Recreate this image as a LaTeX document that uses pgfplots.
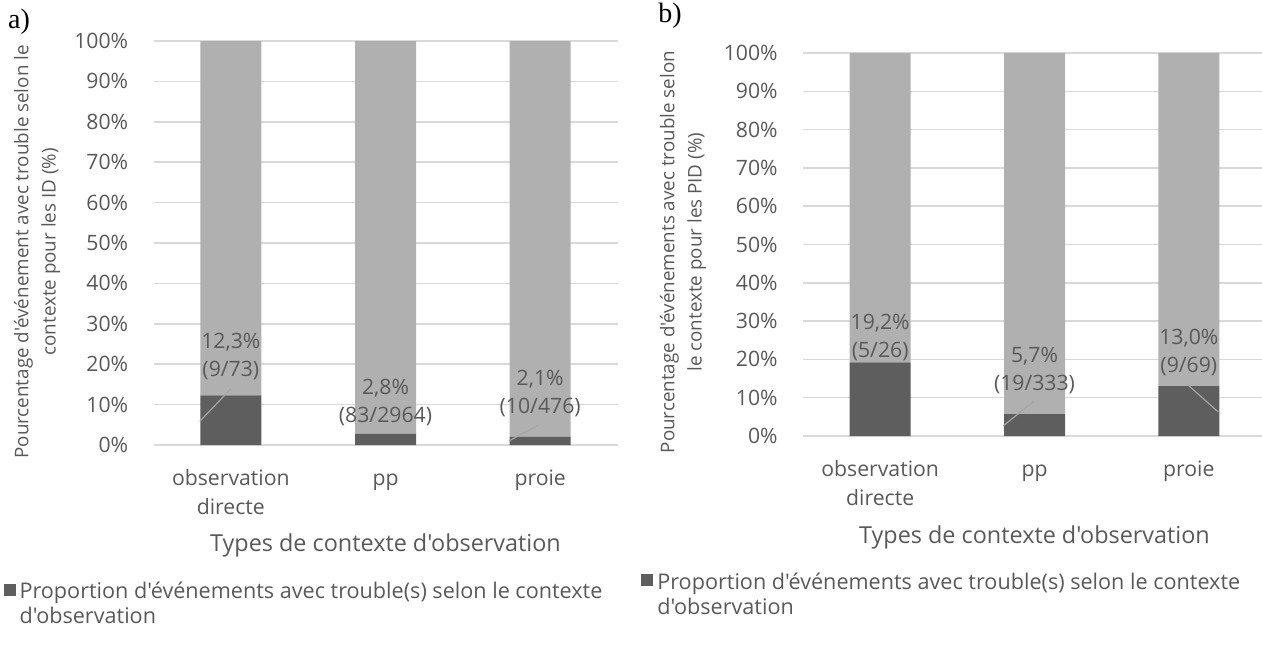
\documentclass[border=0pt]{standalone}
\usepackage{fontspec}
\setmainfont{Open Sans}[Ligatures=TeXOff]
\newfontfamily\serif{Liberation Serif}
\usepackage{pgfplots}
\pgfplotsset{compat=1.18}

\definecolor{dark}{RGB}{94,94,94}
\definecolor{light}{RGB}{176,176,176}
\definecolor{txt}{RGB}{89,89,89}
\definecolor{gridc}{RGB}{217,217,217}
\definecolor{lead}{RGB}{165,165,165}

\tikzset{
  lab/.style={font=\fontsize{10.6}{14}\selectfont, text=txt, align=center},
  lead/.style={draw=lead, line width=0.6pt},
}

\pgfplotsset{
  panel/.style={
    scale only axis, ybar stacked, bar width=30.5pt,
    xmin=-0.5, xmax=2.5, ymin=0, ymax=100,
    xtick={0,1,2},
    xticklabels={{\strut observation\\directe},{\strut pp},{\strut proie}},
    ytick={0,10,...,100},
    yticklabel={\pgfmathparse{int(round(\tick))}\pgfmathresult\%},
    ymajorgrids, grid style={gridc, line width=0.75pt},
    axis line style={draw=none}, major tick length=0pt,
    tick label style={font=\fontsize{10.6}{14.75}\selectfont, text=txt},
    xticklabel style={align=center, inner sep=0pt, anchor=north, yshift=-9.5pt},
    yticklabel style={inner sep=0pt, anchor=east, xshift=-12.5pt},
    xlabel style={font=\fontsize{11.7}{14}\selectfont, text=txt},
    ylabel style={font=\fontsize{9.4}{13.6}\selectfont, text=txt},
    clip=false,
    legend style={draw=none, fill=none, font=\fontsize{10.8}{12.5}\selectfont,
      text=txt, cells={align=left}, inner sep=0pt, anchor=north west},
    legend image code/.code={\fill[#1] (0pt,4.5pt) rectangle (6pt,10.5pt);},
  },
}

\begin{document}
\begin{tikzpicture}
\useasboundingbox (0,0) rectangle (631pt,-326pt);

% panel a
\begin{axis}[panel, at={(76.75pt,-222.5pt)}, anchor=south west,
  width=232pt, height=202pt,
  xlabel={Types de contexte d'observation},
  xlabel style={at={(axis description cs:0.5,-0.2476)}, anchor=center},
  ylabel={Pourcentage d'événement avec trouble selon le\\contexte pour les ID (\%)},
  ylabel style={at={(axis description cs:-0.251,0.478)}, anchor=center, align=center},
  legend style={at={(axis description cs:-0.324,-0.329)}},
  after end axis/.code={
    \draw[lead] (axis cs:-0.2,5.9) -- (axis cs:0,13.9);
    \draw[lead] (axis cs:1.798,1.0) -- (axis cs:1.99,5.0);
    \node[lab] at (axis cs:0,21.8) {12,3\%\\(9/73)};
    \node[lab] at (axis cs:1,10.6) {2,8\%\\(83/2964)};
    \node[lab] at (axis cs:2,12.7) {2,1\%\\(10/476)};
  },
]
\addplot[fill=dark, draw=none] coordinates {(0,12.3) (1,2.8) (2,2.1)};
\addlegendentry{Proportion d'événements avec trouble(s) selon le contexte\\d'observation}
\addplot[fill=light, draw=none, forget plot] coordinates {(0,87.7) (1,97.2) (2,97.9)};
\end{axis}

% panel b
\begin{axis}[panel, at={(401.5pt,-218pt)}, anchor=south west,
  width=231.5pt, height=191.5pt,
  xlabel={Types de contexte d'observation},
  xlabel style={at={(axis description cs:0.5,-0.2637)}, anchor=center},
  ylabel={Pourcentage d'événements avec trouble selon\\le contexte pour les PID (\%)},
  ylabel style={at={(axis description cs:-0.259,0.48)}, anchor=center, align=center},
  legend style={at={(axis description cs:-0.35,-0.345)}},
  after end axis/.code={
    \draw[lead] (axis cs:0.796,2.6) -- (axis cs:0.99,8.9);
    \draw[lead] (axis cs:1.995,13.3) -- (axis cs:2.19,6.3);
    \node[lab] at (axis cs:0,25.6) {19,2\%\\(5/26)};
    \node[lab] at (axis cs:1,17.1) {5,7\%\\(19/333)};
    \node[lab] at (axis cs:2,21.7) {13,0\%\\(9/69)};
  },
]
\addplot[fill=dark, draw=none] coordinates {(0,19.2) (1,5.7) (2,13.0)};
\addlegendentry{Proportion d'événements avec trouble(s) selon le contexte\\d'observation}
\addplot[fill=light, draw=none, forget plot] coordinates {(0,80.8) (1,94.3) (2,87.0)};
\end{axis}

\node[font=\serif\fontsize{14}{16}\selectfont] at (9.5pt,-11pt) {a)};
\node[font=\serif\fontsize{14}{16}\selectfont] at (335pt,-8pt) {b)};
\end{tikzpicture}
\end{document}
